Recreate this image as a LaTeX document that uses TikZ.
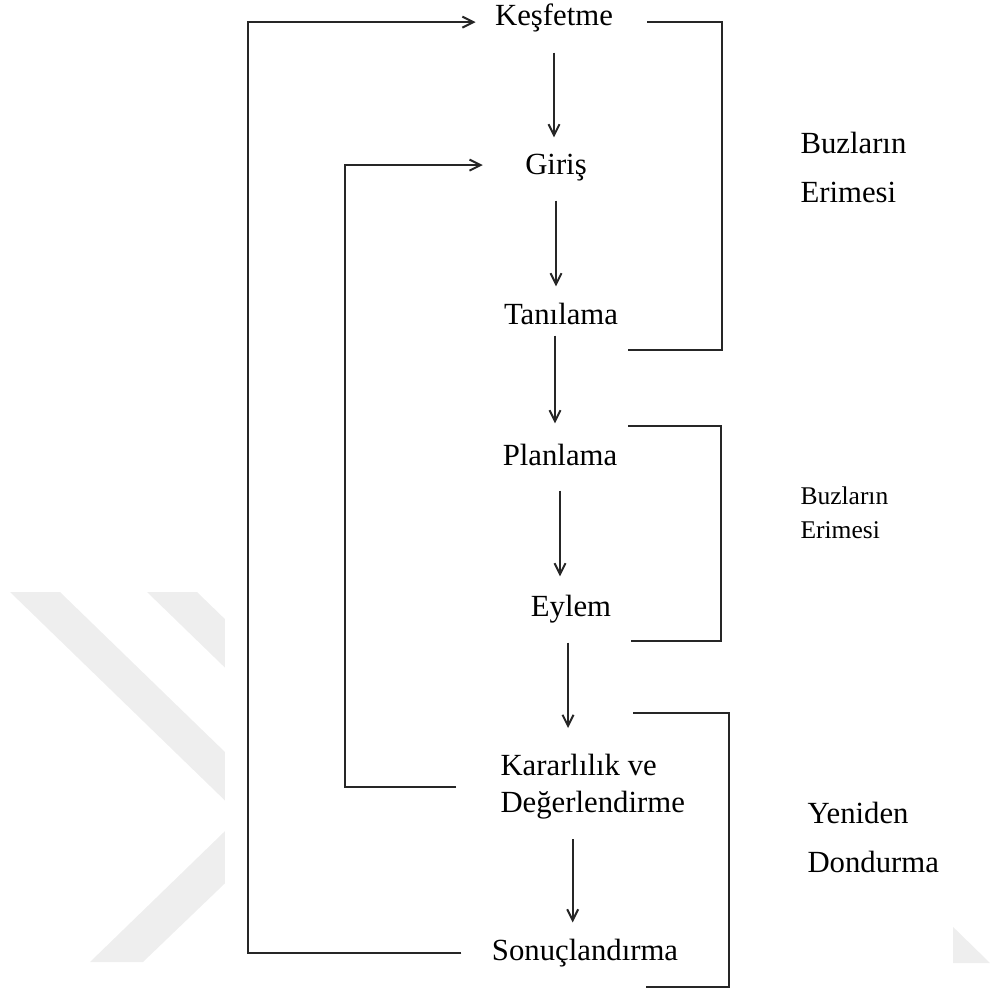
\documentclass[tikz,border=0pt]{standalone}
\usepackage{fontspec}
\setmainfont{Liberation Serif}
\usetikzlibrary{arrows.meta}
\definecolor{markgray}{HTML}{EEEEEE}

\begin{document}
\begin{tikzpicture}[x=0.4pt, y=-0.4pt,
	stage/.style={inner sep=0pt, text height=0.7em, text depth=0.22em, anchor=base},
	phase/.style={inner sep=0pt, align=left, anchor=north west},
	flow/.style={line width=0.8pt, black!85, -{Straight Barb[length=4.4pt, width=4.4pt]}},
	brace/.style={line width=0.8pt, black!85}]

\def\width{992}
\def\height{992}

\fontsize{12.3}{14.8}\selectfont
\path [use as bounding box] (0,0) rectangle (\width,\height);

% WATERMARK
\fill [markgray] (10,592) -- (60,592) -- (460,980) -- (410,980) -- cycle;
\fill [markgray] (147,592) -- (197,592) -- (397,786) -- (347,786) -- cycle;
\fill [markgray] (90,962) -- (143,962) -- (343,770) -- (290,768) -- cycle;
\fill [markgray] (900,875) -- (990,963) -- (850,963) -- cycle;
\fill [white] (225,0) rectangle (953,\height);

% STAGES
\node [stage] (kesif) at (554,26) {Keşfetme};
\node [stage] (giris) at (556,175) {Giriş};
\node [stage] (tani) at (561,324) {Tanılama};
\node [stage] (plan) at (560,465) {Planlama};
\node [stage] (eylem) at (571,616) {Eylem};
\node [phase] (kara) at (500,754) {Kararlılık ve\\Değerlendirme};
\node [stage] (sonuc) at (585,960) {Sonuçlandırma};

% FLOW
\draw [flow, shorten <=7.7pt, shorten >=6.2pt] (kesif.south) -- (kesif.south |- giris.north);
\draw [flow, shorten <=7.3pt, shorten >=6.2pt] (giris.south) -- (giris.south |- tani.north);
\draw [flow, shorten <=1.7pt, shorten >=7.8pt] ([xshift=-2.4pt]tani.south) -- ([xshift=-2.4pt]tani.south |- plan.north);
\draw [flow, shorten <=7.3pt, shorten >=7pt] (plan.south) -- (plan.south |- eylem.north);
\draw [flow, shorten <=7.7pt, shorten >=10.4pt] ([xshift=-1.2pt]eylem.south) -- ([xshift=-1.2pt]eylem.south |- kara.north);
\draw [flow, shorten <=7.7pt, shorten >=6.2pt] ([xshift=-8pt]kara.south) -- ([xshift=-8pt]kara.south |- sonuc.north);

% LOOPS
\coordinate (outer) at (248,0);
\coordinate (inner) at (345,0);
\coordinate (kesifin) at ([yshift=-1.4pt]kesif.west);
\coordinate (girisin) at ([yshift=1pt]giris.west);
\draw [flow, shorten <=12pt, shorten >=7.6pt] (sonuc.west) -| (outer |- kesifin) -- (kesifin);
\draw [flow, shorten <=17.6pt, shorten >=16.8pt] (kara.west) -| (inner |- girisin) -- (girisin);

% BRACKETS
\draw [brace] (647,22) -| (722,350) -- (628,350);
\draw [brace] (628,426) -| (721,641) -- (631,641);
\draw [brace] (633,713) -| (729,987) -- (646,987);

% PHASES
\node [phase, font=\fontsize{12.3}{19.6}\selectfont] (buz1) at (800,132) {Buzların\\Erimesi};
\node [phase, font=\fontsize{10.2}{13.6}\selectfont] (buz2) at (800,486) {Buzların\\Erimesi};
\node [phase, font=\fontsize{12.3}{19.6}\selectfont] (yeni) at (807,802) {Yeniden\\Dondurma};

\end{tikzpicture}
\end{document}
